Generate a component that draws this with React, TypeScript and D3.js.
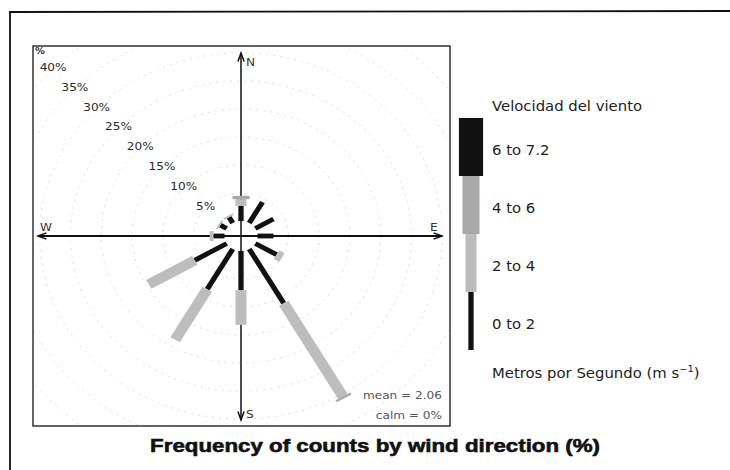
import React from "react";
import * as d3 from "d3";

// wind directions (degrees clockwise from north), 30 degree sectors
const directions = [0, 30, 60, 90, 120, 150, 180, 210, 240, 270, 300, 330];
const speedBins = ["0 to 2", "2 to 4", "4 to 6", "6 to 7.2"];
// frequency (%) per direction for each speed bin
const freq0to2 = [2.7, 4.3, 3.4, 2.6, 4.0, 11.2, 7.0, 8.3, 6.0, 1.8, 1.2, 1.2];
const freq2to4 = [1.2, 0, 0, 0, 1.0, 19.2, 6.2, 10.4, 8.6, 0.6, 0.3, 0.3];
const freq4to6 = [0.6, 0, 0, 0, 0, 0.4, 0, 0, 0, 0, 0, 0];
const freq6to72 = [0, 0, 0, 0, 0, 0, 0, 0, 0, 0, 0, 0];
const gridPercents = [5, 10, 15, 20, 25, 30, 35, 40];
const meanSpeed = "2.06";
const calmPct = "0%";

const binColors = ["#111111", "#bdbdbd", "#a9a9a9", "#111111"];
const binWidths = [4.8, 10, 15.5, 22];

const W = 730;
const H = 470;
const box = { x0: 33, y0: 46, x1: 450, y1: 426 };
const cx = 241;
const cy = 236;
const sx = 1.1; // horizontal stretch of the original picture

const r = d3.scaleLinear().domain([0, 40]).range([15, 239]);

function pt(theta: number, rad: number, side: number): [number, number] {
  const a = (theta * Math.PI) / 180;
  const ux = Math.sin(a), uy = -Math.cos(a);
  const px = Math.cos(a), py = Math.sin(a);
  return [cx + sx * (ux * rad + px * side), cy + (uy * rad + py * side)];
}

function T(props: any) {
  const { x, y, children, ...rest } = props;
  return (
    <text transform={`translate(${x},${y}) scale(${sx},1)`} {...rest}>
      {children}
    </text>
  );
}

export default function App() {
  const series = [freq0to2, freq2to4, freq4to6, freq6to72];
  const line = d3.line();

  const bars: any[] = [];
  directions.forEach((dir, i) => {
    let cum = 0;
    series.forEach((s, b) => {
      const v = s[i];
      if (v <= 0) return;
      const hw = binWidths[b] / 2;
      const p = [
        pt(dir, r(cum), -hw),
        pt(dir, r(cum + v), -hw),
        pt(dir, r(cum + v), hw),
        pt(dir, r(cum), hw),
      ];
      bars.push(
        <path key={`${i}-${b}`} d={line(p) + "Z"} fill={binColors[b]} />
      );
      cum += v;
    });
  });

  const legendY = d3
    .scaleBand()
    .domain(speedBins.slice().reverse())
    .range([118, 350]);
  const legendX = 471;

  const arrow = (x: number, y: number, ang: number) => {
    // ang: direction the arrow points, radians in screen coords
    const L = 9, s = 0.35;
    const a1 = ang + Math.PI - s, a2 = ang + Math.PI + s;
    return `M${x + L * Math.cos(a1)},${y + L * Math.sin(a1)}L${x},${y}L${x + L * Math.cos(a2)},${y + L * Math.sin(a2)}`;
  };

  return (
    <svg
      width={W}
      height={H}
      style={{ position: "absolute", left: 0, top: 0, background: "#fff" }}
    >
      <defs>
        <clipPath id="panel">
          <rect x={box.x0} y={box.y0} width={box.x1 - box.x0} height={box.y1 - box.y0} />
        </clipPath>
      </defs>
      <rect width={W} height={H} fill="#fff" />
      {/* outer frame */}
      <path d={`M10,${H}L10,12L${W},11`} fill="none" stroke="#111" strokeWidth={1.8} />

      {/* panel */}
      <g clipPath="url(#panel)">
        {gridPercents.map((g) => (
          <ellipse
            key={g}
            cx={cx}
            cy={cy}
            rx={sx * r(g)}
            ry={r(g)}
            fill="none"
            stroke="#dcdcdc"
            strokeWidth={1}
            strokeDasharray="2,5"
          />
        ))}
      </g>
      {gridPercents.map((g) => {
        const [x, y] = pt(315, r(g), 0);
        return (
          <T key={g} x={x - 2} y={y + 4} textAnchor="middle" fontFamily="DejaVu Sans" fontSize={11} fill="#2a2a2a">
            {g}%
          </T>
        );
      })}
      <T x={35} y={54} fontFamily="DejaVu Sans" fontSize={9} fontWeight="bold" fill="#333">%</T>

      {/* axes */}
      <g stroke="#111" fill="none">
        <line x1={cx} y1={53} x2={cx} y2={420} strokeWidth={1.5} />
        <line x1={38} y1={cy} x2={442} y2={cy} strokeWidth={2} />
        <path d={arrow(cx, 53, -Math.PI / 2)} strokeWidth={1.5} />
        <path d={arrow(cx, 420, Math.PI / 2)} strokeWidth={1.5} />
        <path d={arrow(38, cy, Math.PI)} strokeWidth={1.5} />
        <path d={arrow(442, cy, 0)} strokeWidth={1.5} />
      </g>
      <g fontFamily="DejaVu Sans" fontSize={11} fill="#333">
        <T x={246} y={66}>N</T>
        <T x={246} y={418}>S</T>
        <T x={40} y={231}>W</T>
        <T x={430} y={231}>E</T>
      </g>

      {bars}

      <g fontFamily="DejaVu Sans" fontSize={11} fill="#555" textAnchor="end">
        <T x={442} y={399}>mean = {meanSpeed}</T>
        <T x={442} y={419}>calm = {calmPct}</T>
      </g>

      <rect x={box.x0} y={box.y0} width={box.x1 - box.x0} height={box.y1 - box.y0} fill="none" stroke="#333" strokeWidth={1.5} />

      {/* legend */}
      <T x={492} y={111} fontFamily="DejaVu Sans" fontSize={13.5} fill="#222">Velocidad del viento</T>
      {speedBins.map((b, i) => {
        const w = binWidths[i] * sx;
        const y0 = legendY(b) as number;
        return (
          <g key={b}>
            <rect x={legendX - w / 2} y={y0} width={w} height={legendY.bandwidth()} fill={binColors[i]} />
            <T x={492} y={y0 + legendY.bandwidth() / 2 + 8} fontFamily="DejaVu Sans" fontSize={13.5} fill="#222">{b}</T>
          </g>
        );
      })}
      <T x={492} y={378} fontFamily="DejaVu Sans" fontSize={13.5} fill="#222">
        Metros por Segundo (m s<tspan dy={-6} fontSize={9}>−1</tspan><tspan dy={6}>)</tspan>
      </T>

      <T
        x={375}
        y={452}
        textAnchor="middle"
        fontFamily="Liberation Sans"
        fontWeight="bold"
        fontSize={18.5}
        fill="#111"
        stroke="#111"
        strokeWidth={0.6}
        textLength={409}
        lengthAdjust="spacingAndGlyphs"
      >
        Frequency of counts by wind direction (%)
      </T>
    </svg>
  );
}
